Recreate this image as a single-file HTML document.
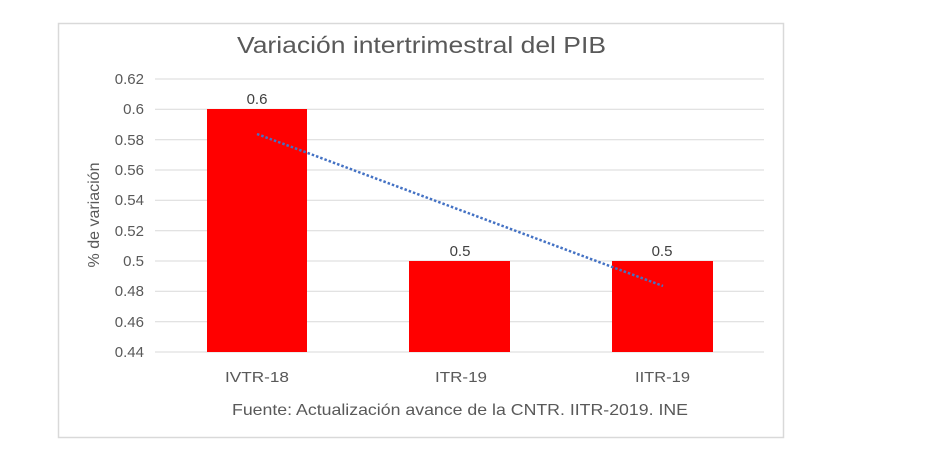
<!DOCTYPE html>
<html><head><meta charset="utf-8"><style>
body{margin:0;background:#fff;}
svg{display:block;font-family:"Liberation Sans",sans-serif;}
</style></head><body>
<svg width="936" height="461" viewBox="0 0 936 461">
<rect x="58.5" y="23.5" width="725" height="414" fill="#fff" stroke="#d9d9d9" stroke-width="1.5"/>
<text x="237" y="53" font-size="23" fill="#595959" textLength="369" lengthAdjust="spacingAndGlyphs">Variación intertrimestral del PIB</text>
<g stroke="#d9d9d9" stroke-width="1">
<line x1="155" x2="764" y1="79" y2="79"/><line x1="155" x2="764" y1="109.3" y2="109.3"/>
<line x1="155" x2="764" y1="139.7" y2="139.7"/><line x1="155" x2="764" y1="170" y2="170"/>
<line x1="155" x2="764" y1="200.3" y2="200.3"/><line x1="155" x2="764" y1="230.7" y2="230.7"/>
<line x1="155" x2="764" y1="261" y2="261"/><line x1="155" x2="764" y1="291.3" y2="291.3"/>
<line x1="155" x2="764" y1="321.7" y2="321.7"/><line x1="155" x2="764" y1="352" y2="352"/>
</g>
<g font-size="15" fill="#595959" text-anchor="end">
<text x="144" y="84">0.62</text><text x="144" y="114">0.6</text><text x="144" y="145">0.58</text>
<text x="144" y="175">0.56</text><text x="144" y="205">0.54</text><text x="144" y="236">0.52</text>
<text x="144" y="266">0.5</text><text x="144" y="296">0.48</text><text x="144" y="327">0.46</text>
<text x="144" y="357">0.44</text>
</g>
<text transform="translate(99,215) rotate(-90)" font-size="16" fill="#595959" text-anchor="middle">% de variación</text>
<rect x="207" y="109" width="100" height="243" fill="#ff0000"/>
<rect x="409" y="261" width="101" height="91" fill="#ff0000"/>
<rect x="612" y="261" width="101" height="91" fill="#ff0000"/>
<line x1="257" y1="134" x2="663" y2="286" stroke="#4472c4" stroke-width="2.5" stroke-dasharray="2.5 2"/>
<g font-size="15" fill="#404040" text-anchor="middle">
<text x="257" y="104">0.6</text><text x="460" y="256">0.5</text><text x="662" y="256">0.5</text>
</g>
<g font-size="15" fill="#595959">
<text x="225" y="382" textLength="64" lengthAdjust="spacingAndGlyphs">IVTR-18</text>
<text x="435" y="382" textLength="52" lengthAdjust="spacingAndGlyphs">ITR-19</text>
<text x="635" y="382" textLength="55" lengthAdjust="spacingAndGlyphs">IITR-19</text>
</g>
<text x="232" y="415" font-size="16" fill="#595959" textLength="456" lengthAdjust="spacingAndGlyphs">Fuente: Actualización avance de la CNTR. IITR-2019. INE</text>
</svg>
</body></html>
